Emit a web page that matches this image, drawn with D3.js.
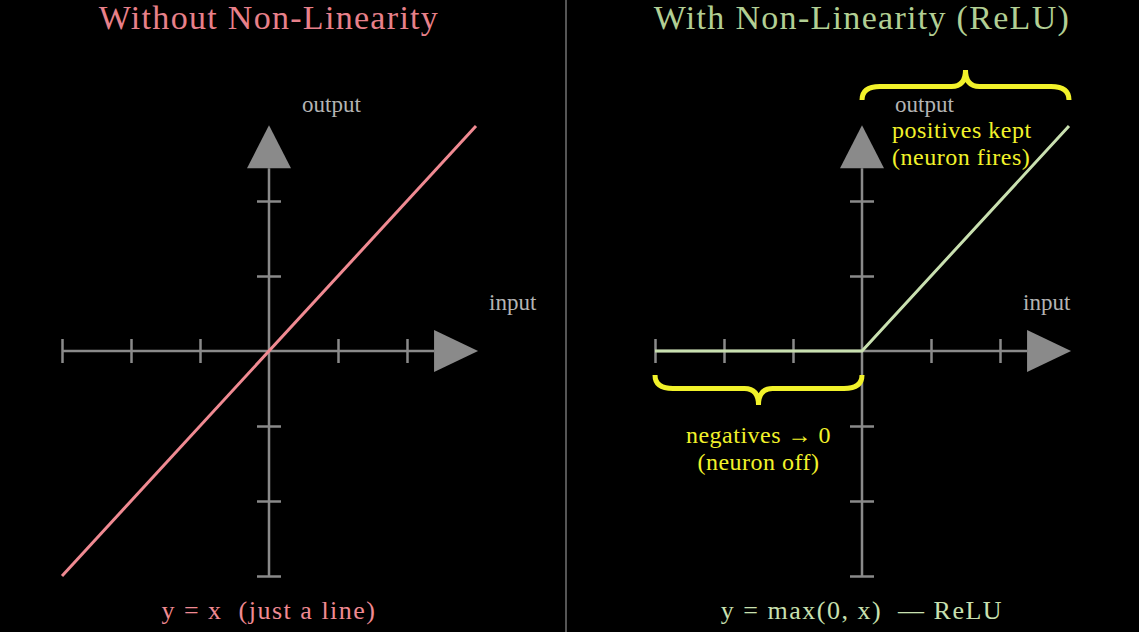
<!DOCTYPE html>
<html>
<head>
<meta charset="utf-8">
<script src="https://cdn.jsdelivr.net/npm/d3@7"></script>
<style>
  html, body { margin: 0; padding: 0; background: #000; }
  svg { display: block; }
  text { font-family: "Liberation Serif", "DejaVu Serif", serif; }
</style>
</head>
<body>
<div id="chart"></div>
<script>
// data
var tickVals = [-3, -2, -1, 1, 2];
var linX = [-3, 3],
    linY = [-3, 3];
var reluX = [-3, 0, 3],
    reluY = [0, 0, 3];
var titles = ["Without Non-Linearity", "With Non-Linearity (ReLU)"];
var captions = ["y = x  (just a line)", "y = max(0, x)  \u2014 ReLU"];

var width = 1139, height = 632,
    axisGray = "#8a8a8a",
    labelGray = "#b4b4b4",
    yellow = "#f2f22a";

var svg = d3.select("#chart").append("svg")
  .attr("width", width)
  .attr("height", height);

svg.append("rect").attr("width", width).attr("height", height).attr("fill", "#000");

// divider
svg.append("line")
  .attr("x1", 566).attr("x2", 566).attr("y1", 0).attr("y2", height)
  .attr("stroke", "#555").attr("stroke-width", 2);

var panels = [
  {ox: 269, title: titles[0], caption: captions[0], titleColor: "#e8808a", lineColor: "#f08a92",
   xs: linX, ys: linY, inputX: 489},
  {ox: 862, title: titles[1], caption: captions[1], titleColor: "#b2cf94", lineColor: "#c9e0b0",
   xs: reluX, ys: reluY, inputX: 1023}
];

panels.forEach(function(p, pi) {
  var x = d3.scaleLinear().domain([-3, 3]).range([p.ox - 207, p.ox + 207]),
      y = d3.scaleLinear().domain([-3, 3]).range([576, 126]),
      ox = x(0), oy = y(0);
  var g = svg.append("g");

  g.append("text")
    .attr("x", ox).attr("y", 29)
    .attr("text-anchor", "middle")
    .attr("font-size", 34)
    .attr("letter-spacing", 1.3)
    .attr("fill", p.titleColor)
    .text(p.title);

  // axis lines
  var xTip = x(3.03), yTip = y(3.01);
  g.append("line")
    .attr("x1", x(-3)).attr("x2", xTip - 44).attr("y1", oy).attr("y2", oy)
    .attr("stroke", axisGray).attr("stroke-width", 2.5);
  g.append("line")
    .attr("x1", ox).attr("x2", ox).attr("y1", y(-3)).attr("y2", yTip + 43)
    .attr("stroke", axisGray).attr("stroke-width", 2.5);

  // ticks
  var xa = g.append("g")
    .attr("transform", "translate(0," + (oy - 12) + ")")
    .call(d3.axisBottom(x).tickValues(tickVals).tickSize(24).tickFormat(""));
  var ya = g.append("g")
    .attr("transform", "translate(" + (ox - 12) + ",0)")
    .call(d3.axisRight(y).tickValues(tickVals).tickSize(24).tickFormat(""));
  [xa, ya].forEach(function(a) {
    a.select(".domain").remove();
    a.selectAll(".tick line").attr("stroke", axisGray).attr("stroke-width", 2.5);
  });

  // arrow heads
  g.append("path")
    .attr("d", "M" + xTip + "," + oy + "L" + (xTip - 44) + "," + (oy - 21) + "L" + (xTip - 44) + "," + (oy + 21) + "Z")
    .attr("fill", axisGray);
  g.append("path")
    .attr("d", "M" + ox + "," + yTip + "L" + (ox - 22) + "," + (yTip + 43) + "L" + (ox + 22) + "," + (yTip + 43) + "Z")
    .attr("fill", axisGray);

  // axis labels
  g.append("text").attr("x", ox + 33).attr("y", 112)
    .attr("font-size", 23).attr("fill", labelGray).text("output");
  g.append("text").attr("x", p.inputX).attr("y", 310)
    .attr("font-size", 23).attr("fill", labelGray).text("input");

  // function line
  var pts = p.xs.map(function(v, i) { return [v, p.ys[i]]; });
  g.append("path")
    .datum(pts)
    .attr("d", d3.line().x(function(d) { return x(d[0]); }).y(function(d) { return y(d[1]); }))
    .attr("fill", "none")
    .attr("stroke", p.lineColor)
    .attr("stroke-width", 3);

  g.append("text")
    .attr("x", ox).attr("y", 619)
    .attr("text-anchor", "middle")
    .attr("font-size", 26)
    .attr("letter-spacing", 1.5)
    .attr("xml:space", "preserve")
    .style("white-space", "pre")
    .attr("fill", p.lineColor)
    .text(p.caption);

  if (pi === 1) {
    // braces
    function brace(x1, x2, y0, h) {
      var m = (x1 + x2) / 2, yb = y0 + h * 0.45, tip = y0 + h;
      return "M" + x1 + "," + y0 +
        "Q" + x1 + "," + yb + " " + (x1 + 18) + "," + yb +
        "L" + (m - 14) + "," + yb +
        "Q" + m + "," + yb + " " + m + "," + tip +
        "Q" + m + "," + yb + " " + (m + 14) + "," + yb +
        "L" + (x2 - 18) + "," + yb +
        "Q" + x2 + "," + yb + " " + x2 + "," + y0;
    }
    g.append("path")
      .attr("d", brace(x(0), x(3), 100, -30))
      .attr("fill", "none").attr("stroke", yellow).attr("stroke-width", 5);
    g.append("path")
      .attr("d", brace(x(-3), x(0), 375, 30))
      .attr("fill", "none").attr("stroke", yellow).attr("stroke-width", 5);

    g.append("text").attr("x", ox + 30).attr("y", 138)
      .attr("font-size", 24).attr("letter-spacing", 0.5).attr("fill", yellow).text("positives kept");
    g.append("text").attr("x", ox + 30).attr("y", 165)
      .attr("font-size", 24).attr("letter-spacing", 0.5).attr("fill", yellow).text("(neuron fires)");
    g.append("text").attr("x", x(-1.5)).attr("y", 443)
      .attr("text-anchor", "middle")
      .attr("font-size", 24).attr("letter-spacing", 0.5).attr("fill", yellow).text("negatives \u2192 0");
    g.append("text").attr("x", x(-1.5)).attr("y", 470)
      .attr("text-anchor", "middle")
      .attr("font-size", 24).attr("letter-spacing", 0.5).attr("fill", yellow).text("(neuron off)");
  }
});
</script>
</body>
</html>
